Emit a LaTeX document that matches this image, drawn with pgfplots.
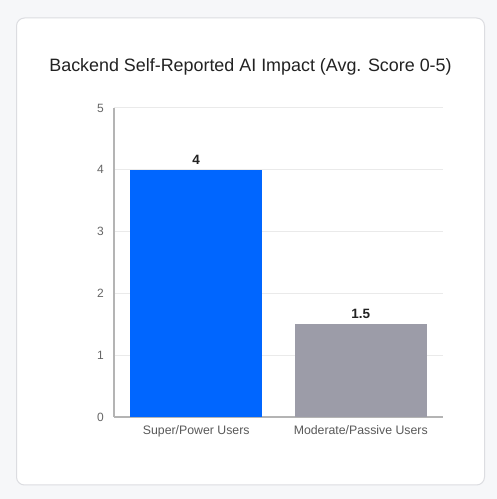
\documentclass[border=0pt]{standalone}
\usepackage{fontspec}
\setmainfont{Liberation Sans}
\usepackage{pgfplots}
\pgfplotsset{compat=1.18}

\definecolor{pagebg}{HTML}{F6F7F9}
\definecolor{cardedge}{HTML}{DCDDE1}
\definecolor{barblue}{HTML}{0066FF}
\definecolor{bargray}{HTML}{9C9CA8}
\definecolor{axisgray}{HTML}{B4B4B4}
\definecolor{gridgray}{HTML}{EAEAEA}
\definecolor{ticktext}{HTML}{666666}
\definecolor{titletext}{HTML}{222222}

\begin{document}
\begin{tikzpicture}[x=1pt,y=1pt]
% page and card
\fill[pagebg] (0,0) rectangle (497,499);
\draw[cardedge, fill=white, rounded corners=8pt, line width=1pt] (16.5,14) rectangle (484.5,481);
\node[titletext, anchor=base, inner sep=0pt, font=\fontsize{17.9}{21}\selectfont]
  at (250.5,427) {Backend Self-Reported AI Impact (Avg. Score 0-5)};

\begin{axis}[
    at={(114pt,82pt)}, anchor=south west,
    scale only axis, width=329pt, height=309pt,
    ymin=0, ymax=5, ytick={0,1,2,3,4,5},
    xmin=-0.5, xmax=1.5, xtick={0,1},
    xticklabels={Super/Power Users, Moderate/Passive Users},
    axis x line*=bottom, axis y line*=left,
    axis line style={-, axisgray, line width=1.5pt},
    ymajorgrids, grid style={gridgray, line width=1pt},
    major tick length=0pt,
    /pgf/number format/assume math mode=true,
    yticklabel style={ticktext, font=\fontsize{12}{14}\selectfont, inner sep=0pt, xshift=-10pt},
    xticklabel style={color=black!65, font=\fontsize{12.3}{14}\selectfont, anchor=north, inner sep=0pt, yshift=-8.5pt},
    ybar, bar width=132pt,
    nodes near coords,
    nodes near coords style={font=\bfseries\fontsize{13.5}{15}\selectfont, color=titletext,
        anchor=south, inner sep=0pt, yshift=5pt},
]
\addplot[fill=barblue, draw=none, bar shift=0pt] coordinates {(0,4)};
\addplot[fill=bargray, draw=none, bar shift=0pt] coordinates {(1,1.5)};
\end{axis}
\end{tikzpicture}
\end{document}
